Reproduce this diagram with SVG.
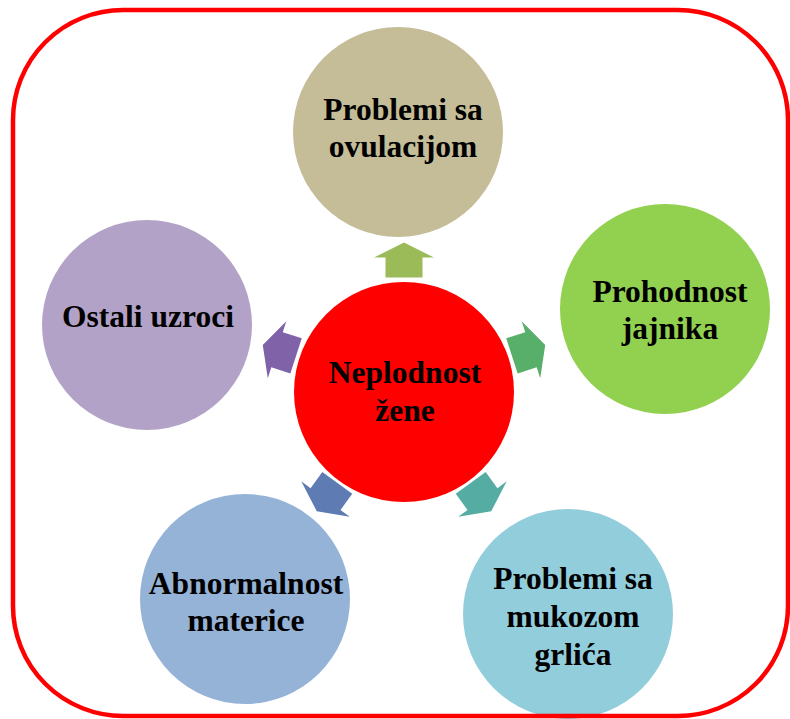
<svg xmlns="http://www.w3.org/2000/svg" width="790" height="719" viewBox="0 0 790 719">
<style>
.lbl{font-family:"Liberation Serif","Times New Roman",serif;font-weight:bold;font-size:31.5px;fill:#000;text-anchor:middle}
.arr{stroke:none}
</style>
<defs>
<polygon id="arrow" points="0,-17.5 30,-2.5 18.5,-2.5 18.5,17.5 -18.5,17.5 -18.5,-2.5 -30,-2.5"/>
</defs>
<rect x="0" y="0" width="790" height="719" fill="#ffffff"/>
<g id="connectors">
<use href="#arrow" fill="#9BBB59" transform="translate(404,391) rotate(0) translate(0,-131)"/>
<use href="#arrow" fill="#58AF69" transform="translate(404,391) rotate(72) translate(0,-131)"/>
<use href="#arrow" fill="#55ACA3" transform="translate(404,391) rotate(144) translate(0,-131)"/>
<use href="#arrow" fill="#5F7BB3" transform="translate(404,391) rotate(216) translate(0,-131)"/>
<use href="#arrow" fill="#7F62A8" transform="translate(404,391) rotate(288) translate(0,-131)"/>
</g>
<g id="node-top">
<circle cx="398" cy="132" r="105" fill="#C4BD97"/>
<text class="lbl" x="403" y="120">Problemi sa</text>
<text class="lbl" x="403" y="157">ovulacijom</text>
</g>
<g id="node-right">
<circle cx="665" cy="309" r="105" fill="#92D050"/>
<text class="lbl" x="670" y="302">Prohodnost</text>
<text class="lbl" x="670" y="339">jajnika</text>
</g>
<g id="node-bottom-right">
<circle cx="568" cy="614" r="105" fill="#92CDDC"/>
<text class="lbl" x="573" y="589">Problemi sa</text>
<text class="lbl" x="573" y="627">mukozom</text>
<text class="lbl" x="573" y="665">grlića</text>
</g>
<g id="node-bottom-left">
<circle cx="245" cy="599" r="105" fill="#95B3D7"/>
<text class="lbl" x="246" y="594">Abnormalnost</text>
<text class="lbl" x="246" y="631">materice</text>
</g>
<g id="node-left">
<circle cx="147" cy="325" r="105" fill="#B2A2C7"/>
<text class="lbl" x="148" y="327">Ostali uzroci</text>
</g>
<g id="node-center">
<circle cx="404" cy="392" r="110" fill="#FF0000"/>
<text class="lbl" x="405" y="383">Neplodnost</text>
<text class="lbl" x="405" y="421">žene</text>
</g>
<rect id="frame" x="13" y="10" width="775" height="706" rx="110" ry="110" fill="none" stroke="#FF0000" stroke-width="4.5"/>
</svg>
